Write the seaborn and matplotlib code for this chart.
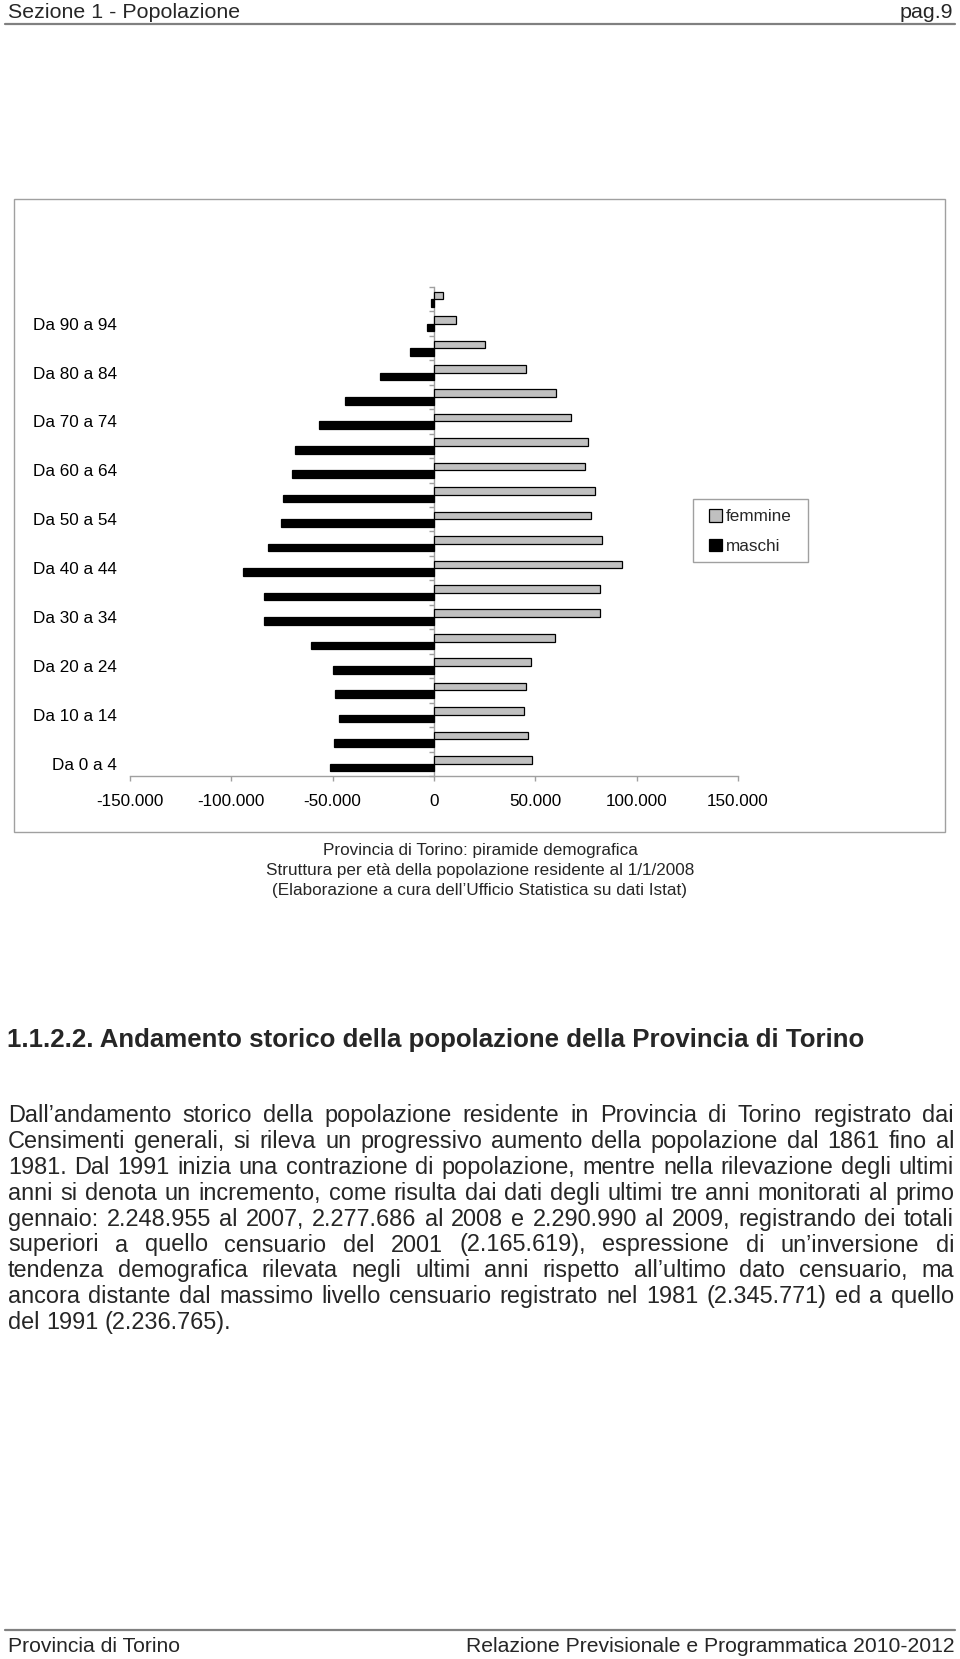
import matplotlib
matplotlib.use('Agg')
import matplotlib.pyplot as plt
from matplotlib.patches import Rectangle
from matplotlib.lines import Line2D
from matplotlib.ticker import FuncFormatter
import seaborn as sns
import pandas as pd

W, H = 960, 1659

# classi di eta', dalla piu' giovane alla piu' anziana
eta = ['Da 0 a 4', 'Da 5 a 9', 'Da 10 a 14', 'Da 15 a 19', 'Da 20 a 24',
       'Da 25 a 29', 'Da 30 a 34', 'Da 35 a 39', 'Da 40 a 44', 'Da 45 a 49',
       'Da 50 a 54', 'Da 55 a 59', 'Da 60 a 64', 'Da 65 a 69', 'Da 70 a 74',
       'Da 75 a 79', 'Da 80 a 84', 'Da 85 a 89', 'Da 90 a 94', 'Da 95 a 99']
femmine = [48200, 46600, 44400, 45400, 47900, 59700, 81800, 81800, 92600, 82800,
           77700, 79300, 74400, 75900, 67500, 60200, 45600, 25200, 10800, 4600]
maschi = [51300, 49500, 47000, 48700, 49700, 60800, 83900, 83900, 94300, 82000,
          75700, 74600, 70000, 68700, 56700, 43800, 26600, 11800, 3400, 1300]
tick_valori = [-150000, -100000, -50000, 0, 50000, 100000, 150000]

didascalia = ['Provincia di Torino: piramide demografica',
              'Struttura per età della popolazione residente al 1/1/2008',
              '(Elaborazione a cura dell’Ufficio Statistica su dati Istat)']

titolo = '1.1.2.2. Andamento storico della popolazione della Provincia di Torino'
paragrafo = [
    'Dall’andamento storico della popolazione residente in Provincia di Torino registrato dai',
    'Censimenti generali, si rileva un progressivo aumento della popolazione dal 1861 fino al',
    '1981. Dal 1991 inizia una contrazione di popolazione, mentre nella rilevazione degli ultimi',
    'anni si denota un incremento, come risulta dai dati degli ultimi tre anni monitorati al primo',
    'gennaio: 2.248.955 al 2007, 2.277.686 al 2008 e 2.290.990 al 2009, registrando dei totali',
    'superiori a quello censuario del 2001 (2.165.619), espressione di un’inversione di',
    'tendenza demografica rilevata negli ultimi anni rispetto all’ultimo dato censuario, ma',
    'ancora distante dal massimo livello censuario registrato nel 1981 (2.345.771) ed a quello',
    'del 1991 (2.236.765).',
]

sns.set_theme(style='white')
plt.rcParams['font.family'] = ['Liberation Sans', 'DejaVu Sans']

fig = plt.figure(figsize=(W / 100, H / 100), dpi=100)


def fx(px):
    return px / W


def fy(py):
    return 1 - py / H


GRIGIO = '#a0a0a0'

# piramide
ax = fig.add_axes([fx(130), fy(776), (738 - 130) / W, (776 - 287) / H])
df = pd.DataFrame({
    'eta': eta + eta,
    'sesso': ['femmine'] * len(eta) + ['maschi'] * len(eta),
    'valore': femmine + [-m for m in maschi],
})
ordine = eta[::-1]
sns.barplot(data=df, x='valore', y='eta', hue='sesso', order=ordine,
            hue_order=['femmine', 'maschi'],
            palette={'femmine': '#c0c0c0', 'maschi': 'black'},
            width=0.62, edgecolor='black', linewidth=0.9, saturation=1,
            errorbar=None, ax=ax)

ax.set_xlim(-150000, 150000)
ax.set_xticks(tick_valori)
ax.xaxis.set_major_formatter(FuncFormatter(lambda v, p: f'{int(v):,}'.replace(',', '.')))
ax.set_yticks(range(len(ordine)))
ax.set_yticklabels([lab if (len(ordine) - 1 - i) % 2 == 0 else '' for i, lab in enumerate(ordine)])
ax.set_xlabel('')
ax.set_ylabel('')
for s in ['top', 'right', 'left']:
    ax.spines[s].set_visible(False)
ax.spines['bottom'].set_color(GRIGIO)
ax.spines['bottom'].set_linewidth(1)
ax.tick_params(axis='x', direction='out', length=3.6, width=1, color=GRIGIO,
               pad=9.5, labelsize=12.3, labelcolor='black', bottom=True)
ax.tick_params(axis='y', length=0, pad=9.4, labelsize=12.3, labelcolor='black')
ax.set_facecolor('none')

# asse verticale sullo zero con tacche fra le classi
asse0 = ax.secondary_yaxis(0.5)
asse0.set_alignment('left')
asse0.set_yticks([k - 0.5 for k in range(len(ordine) + 1)])
asse0.set_yticklabels([])
asse0.tick_params(length=3.6, width=1, color=GRIGIO, direction='out')
asse0.spines['left'].set_color(GRIGIO)
asse0.spines['left'].set_linewidth(1)

# legenda
handles, labels = ax.get_legend_handles_labels()
if ax.get_legend() is not None:
    ax.get_legend().remove()
fig.legend(handles, labels, loc='upper left', bbox_to_anchor=(fx(709), fy(509)),
           frameon=False, fontsize=12.3, handlelength=0.75, handleheight=0.75,
           handletextpad=0.25, labelspacing=0.85, borderpad=0, borderaxespad=0)
fig.add_artist(Rectangle((fx(693), fy(562)), (808 - 693) / W, (562 - 499) / H,
                         transform=fig.transFigure, fill=False, edgecolor=GRIGIO, lw=1))

# cornice del grafico
fig.add_artist(Rectangle((fx(14), fy(832)), (945 - 14) / W, (832 - 199) / H,
                         transform=fig.transFigure, fill=False, edgecolor=GRIGIO, lw=1))

for k, riga in enumerate(didascalia):
    fig.text(fx(480), fy(851 + 20 * k), riga, ha='center', va='center', fontsize=12.3)

# intestazione e pie' di pagina
fig.text(fx(8), fy(12.5), 'Sezione 1 - Popolazione', ha='left', va='center', fontsize=15.4)
fig.text(fx(953), fy(12.5), 'pag.9', ha='right', va='center', fontsize=15.4)
fig.add_artist(Line2D([fx(5), fx(955)], [fy(24), fy(24)], transform=fig.transFigure,
                      color='#808080', lw=1.6))
fig.add_artist(Line2D([fx(5), fx(955)], [fy(1630), fy(1630)], transform=fig.transFigure,
                      color='#808080', lw=1.6))
fig.text(fx(8), fy(1646), 'Provincia di Torino', ha='left', va='center', fontsize=15.2)
fig.text(fx(955), fy(1646), 'Relazione Previsionale e Programmatica 2010-2012',
         ha='right', va='center', fontsize=15.2)

# testo
fig.text(fx(7), fy(1040), titolo, ha='left', va='center', fontsize=18.6, fontweight='bold')

renderer = fig.canvas.get_renderer()


def riga_giustificata(testo, y, x0, x1, size, giustifica=True):
    parole = testo.split()
    oggetti = [fig.text(0, fy(y), p, ha='left', va='baseline', fontsize=size) for p in parole]
    larghezze = [t.get_window_extent(renderer).width for t in oggetti]
    if giustifica and len(parole) > 1:
        spazio = (x1 - x0 - sum(larghezze)) / (len(parole) - 1)
    else:
        spazio = size * 100 / 72 * 0.278
    x = x0
    for t, w in zip(oggetti, larghezze):
        t.set_x(fx(x))
        x += w + spazio


for k, riga in enumerate(paragrafo):
    riga_giustificata(riga, 1122 + 25.9 * k, 8, 954, 16.9,
                      giustifica=(k < len(paragrafo) - 1))

fig.savefig('out.png', dpi=100, facecolor='white')
